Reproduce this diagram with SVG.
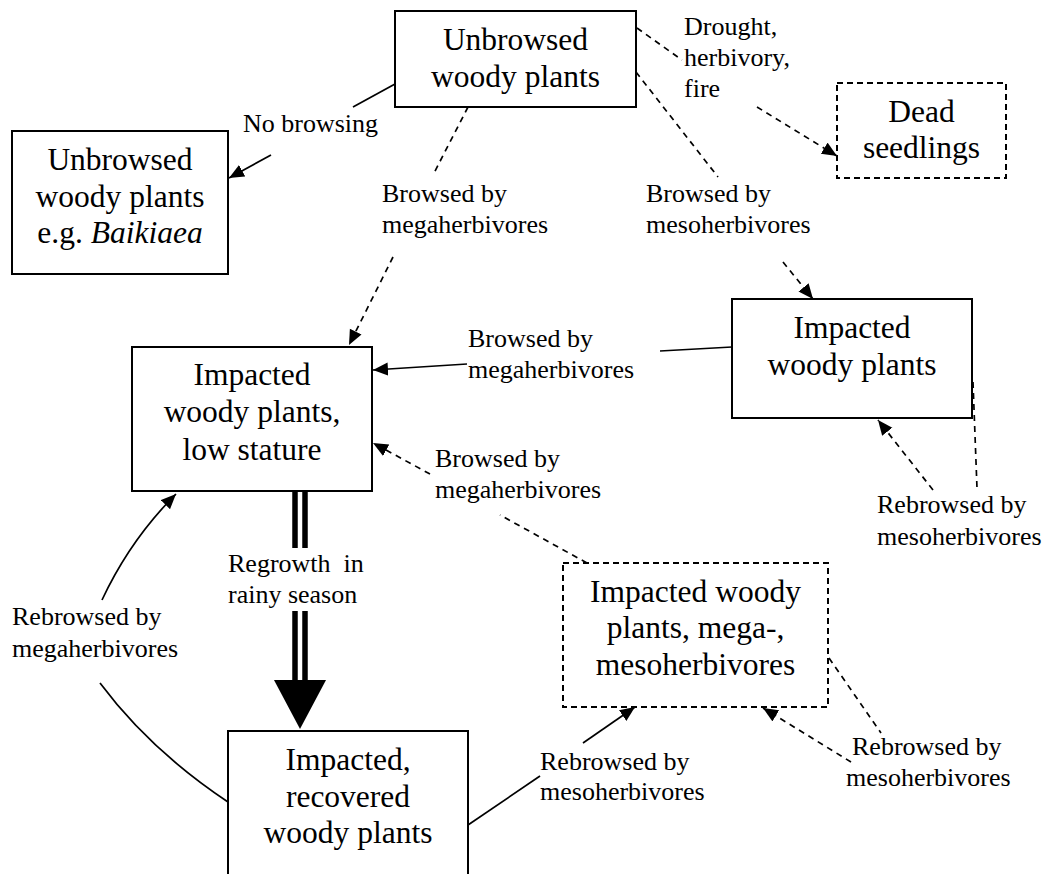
<svg xmlns="http://www.w3.org/2000/svg" width="1050" height="874" viewBox="0 0 1050 874">
<style>
.box{fill:#fff;stroke:#000;stroke-width:2}
.dbox{fill:#fff;stroke:#000;stroke-width:2;stroke-dasharray:6,4}
.bt{font-family:"Liberation Serif","Times New Roman",serif;font-size:31.5px;fill:#000;text-anchor:middle}
.lb{font-family:"Liberation Serif","Times New Roman",serif;font-size:26px;fill:#000}
.ln{fill:none;stroke:#000;stroke-width:1.7}
.dl{fill:none;stroke:#000;stroke-width:1.7;stroke-dasharray:6,5}
</style>
<defs>
<marker id="ah" markerUnits="userSpaceOnUse" markerWidth="16" markerHeight="14" refX="15" refY="6.5" orient="auto">
<path d="M0,0 L15,6.5 L0,13 z" fill="#000"/>
</marker>
</defs>
<rect width="1050" height="874" fill="#fff"/>

<g id="connectors">
<line class="ln" x1="395" y1="84" x2="353" y2="107"/>
<line class="ln" x1="271" y1="155" x2="229" y2="178" marker-end="url(#ah)"/>
<line class="dl" x1="468" y1="107" x2="433" y2="175"/>
<line class="dl" x1="393" y1="257" x2="349" y2="345" marker-end="url(#ah)"/>
<line class="dl" x1="637" y1="28" x2="682" y2="60"/>
<line class="dl" x1="757" y1="107" x2="837" y2="156" marker-end="url(#ah)"/>
<line class="dl" x1="636" y1="72" x2="718" y2="177"/>
<line class="dl" x1="783" y1="262" x2="813" y2="299" marker-end="url(#ah)"/>
<line class="ln" x1="732" y1="347" x2="660" y2="351"/>
<line class="ln" x1="467" y1="364" x2="373" y2="370" marker-end="url(#ah)"/>
<line class="dl" x1="587" y1="563" x2="500" y2="515"/>
<line class="dl" x1="430" y1="474" x2="373" y2="443" marker-end="url(#ah)"/>
<line class="dl" x1="973" y1="382" x2="977" y2="488"/>
<line class="dl" x1="933" y1="490" x2="878" y2="420" marker-end="url(#ah)"/>
<line x1="295" y1="491" x2="295" y2="548" stroke="#000" stroke-width="5.5"/>
<line x1="305" y1="491" x2="305" y2="548" stroke="#000" stroke-width="5.5"/>
<line x1="295" y1="611" x2="295" y2="682" stroke="#000" stroke-width="5.5"/>
<line x1="305" y1="611" x2="305" y2="682" stroke="#000" stroke-width="5.5"/>
<path d="M274,680 L326,680 L300,729 z" fill="#000"/>
<path class="ln" d="M228,802 Q150,750 100,683"/>
<path class="ln" d="M102,600 Q130,540 176,494" marker-end="url(#ah)"/>
<line class="ln" x1="468" y1="825" x2="540" y2="776"/>
<line class="ln" x1="583" y1="743" x2="635" y2="707" marker-end="url(#ah)"/>
<line class="dl" x1="829" y1="658" x2="881" y2="733"/>
<line class="dl" x1="851" y1="762" x2="763" y2="708" marker-end="url(#ah)"/>
</g>

<g id="labels">
<text class="lb" x="243" y="132">No browsing</text>
<text class="lb" x="382" y="202">Browsed by</text>
<text class="lb" x="382" y="233">megaherbivores</text>
<text class="lb" x="684" y="35">Drought,</text>
<text class="lb" x="684" y="66">herbivory,</text>
<text class="lb" x="684" y="97">fire</text>
<text class="lb" x="646" y="202">Browsed by</text>
<text class="lb" x="646" y="233">mesoherbivores</text>
<text class="lb" x="468" y="347">Browsed by</text>
<text class="lb" x="468" y="378">megaherbivores</text>
<text class="lb" x="435" y="467">Browsed by</text>
<text class="lb" x="435" y="498">megaherbivores</text>
<text class="lb" x="877" y="513">Rebrowsed by</text>
<text class="lb" x="877" y="545">mesoherbivores</text>
<text class="lb" x="228" y="572">Regrowth&#160; in</text>
<text class="lb" x="228" y="603">rainy season</text>
<text class="lb" x="12" y="625">Rebrowsed by</text>
<text class="lb" x="12" y="657">megaherbivores</text>
<text class="lb" x="540" y="770">Rebrowsed by</text>
<text class="lb" x="540" y="800">mesoherbivores</text>
<text class="lb" x="852" y="755">Rebrowsed by</text>
<text class="lb" x="846" y="786">mesoherbivores</text>
</g>

<g id="node-unbrowsed-top">
<rect class="box" x="395" y="11" width="241" height="96"/>
<text class="bt" x="515.5" y="50">Unbrowsed</text>
<text class="bt" x="515.5" y="87">woody plants</text>
</g>
<g id="node-unbrowsed-baikiaea">
<rect class="box" x="12" y="131" width="216" height="143"/>
<text class="bt" x="120" y="170">Unbrowsed</text>
<text class="bt" x="120" y="207">woody plants</text>
<text class="bt" x="120" y="243">e.g. <tspan font-style="italic">Baikiaea</tspan></text>
</g>
<g id="node-dead-seedlings">
<rect class="dbox" x="837" y="83" width="169" height="95"/>
<text class="bt" x="921.5" y="122">Dead</text>
<text class="bt" x="921.5" y="158">seedlings</text>
</g>
<g id="node-impacted-low">
<rect class="box" x="132" y="347" width="240" height="144"/>
<text class="bt" x="252" y="385">Impacted</text>
<text class="bt" x="252" y="422">woody plants,</text>
<text class="bt" x="252" y="460">low stature</text>
</g>
<g id="node-impacted-right">
<rect class="box" x="732" y="299" width="240" height="119"/>
<text class="bt" x="852" y="338">Impacted</text>
<text class="bt" x="852" y="375">woody plants</text>
</g>
<g id="node-impacted-mega-meso">
<rect class="dbox" x="563" y="563" width="265" height="144"/>
<text class="bt" x="695.5" y="602">Impacted woody</text>
<text class="bt" x="695.5" y="638">plants, mega-,</text>
<text class="bt" x="695.5" y="675">mesoherbivores</text>
</g>
<g id="node-recovered">
<rect class="box" x="228" y="731" width="240" height="160"/>
<text class="bt" x="348" y="770">Impacted,</text>
<text class="bt" x="348" y="807">recovered</text>
<text class="bt" x="348" y="843">woody plants</text>
</g>
</svg>
